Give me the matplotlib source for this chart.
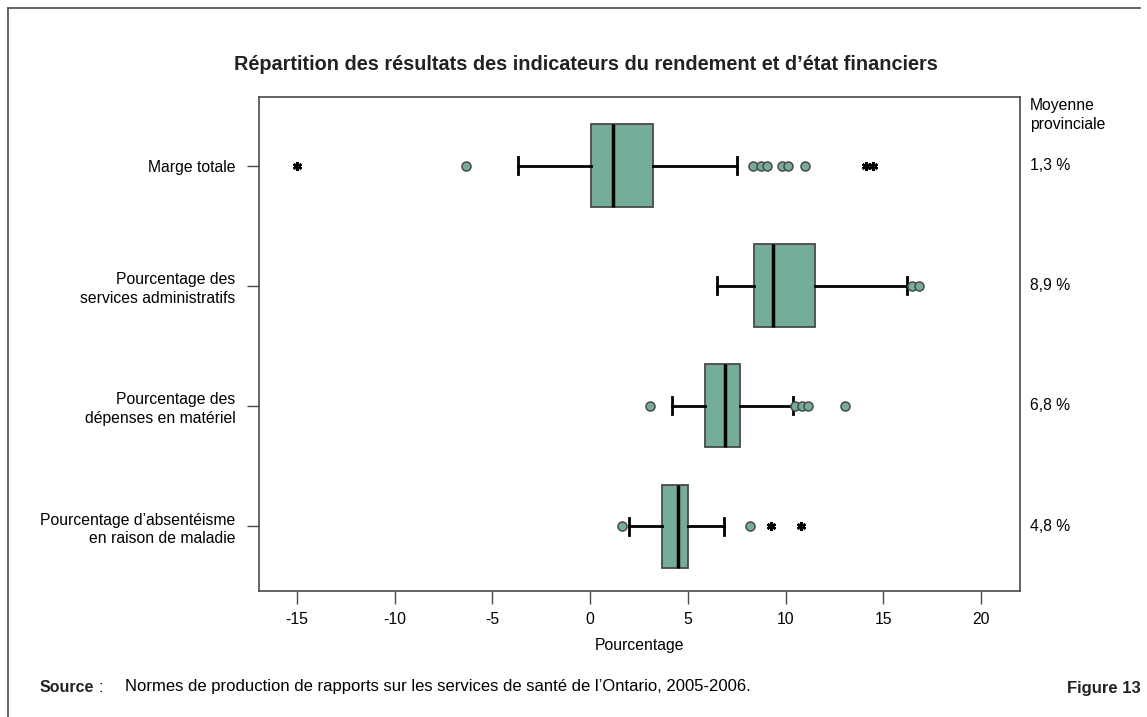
import matplotlib
matplotlib.use('Agg')
import matplotlib.pyplot as plt
from matplotlib.lines import Line2D

plt.rcParams['font.family'] = ['Liberation Sans', 'DejaVu Sans']

categories = [
    'Marge totale',
    'Pourcentage des\nservices administratifs',
    'Pourcentage des\ndépenses en matériel',
    "Pourcentage d\u2019absentéisme\nen raison de maladie",
]
moyennes = ['1,3 %', '8,9 %', '6,8 %', '4,8 %']

whisker_low = [-3.7, 6.5, 4.18, 2.0]
q1 = [0.05, 8.36, 5.89, 3.68]
medians = [1.15, 9.38, 6.91, 4.47]
q3 = [3.21, 11.53, 7.68, 5.02]
whisker_high = [7.5, 16.2, 10.37, 6.86]

outliers = [
    [-6.35, 8.33, 8.75, 9.07, 9.81, 10.15, 11.0],
    [16.46, 16.85],
    [3.07, 10.49, 10.83, 11.17, 13.03],
    [1.62, 8.19],
]
extremes = [
    [-15.0, 14.1, 14.5],
    [],
    [],
    [9.25, 10.8],
]

green = '#74ae9b'
edge = '#4a4a4a'

fig = plt.figure(figsize=(11.47, 7.17), dpi=100)
ax = fig.add_axes([259 / 1147, 1 - 591 / 717, (1020 - 259) / 1147, (591 - 97) / 717])

positions = [4, 3, 2, 1]
stats = []
for i in range(len(categories)):
    stats.append({
        'whislo': whisker_low[i], 'q1': q1[i], 'med': medians[i],
        'q3': q3[i], 'whishi': whisker_high[i], 'fliers': outliers[i],
    })

ax.bxp(stats, positions=positions, vert=False, widths=0.69, patch_artist=True,
       showfliers=True, capwidths=0.14,
       boxprops=dict(facecolor=green, edgecolor=edge, linewidth=1.3),
       medianprops=dict(color='black', linewidth=2.5),
       whiskerprops=dict(color='black', linewidth=2),
       capprops=dict(color='black', linewidth=2),
       flierprops=dict(marker='o', markersize=6.5, markerfacecolor=green,
                       markeredgecolor=edge, markeredgewidth=1.1, linestyle='none'))

# extreme values drawn as asterisks
for pos, ext in zip(positions, extremes):
    if ext:
        ax.plot(ext, [pos] * len(ext), linestyle='none', marker=(6, 2, 0),
                markersize=6.5, markeredgewidth=1.8, color='black')

ax.set_xlim(-16.95, 22.0)
ax.set_ylim(0.46, 4.57)
ax.set_xticks([-15, -10, -5, 0, 5, 10, 15, 20])
ax.set_xticklabels(['-15', '-10', '-5', '0', '5', '10', '15', '20'])
ax.set_yticks(positions)
ax.set_yticklabels(categories, ha='right', linespacing=1.3)
ax.tick_params(axis='both', labelsize=11.3, length=9, width=1, color=edge, pad=6)
ax.tick_params(axis='y', pad=8)
for s in ax.spines.values():
    s.set_color(edge)
    s.set_linewidth(1.2)
ax.set_xlabel('Pourcentage', fontsize=11.3, labelpad=8)

fig.text(586 / 1147, 1 - 65 / 717, 'Répartition des résultats des indicateurs du rendement et d\u2019état financiers',
         ha='center', va='center', fontsize=14.3, fontweight='bold', color='#222222')

fig.text(1030 / 1147, 1 - 115 / 717, 'Moyenne\nprovinciale', ha='left', va='center',
         fontsize=11.3, linespacing=1.3)
for pos, m in zip(positions, moyennes):
    y_disp = ax.transData.transform((0, pos))[1]
    fig.text(1030 / 1147, y_disp / fig.bbox.height, m, ha='left', va='center', fontsize=11.3)

fig.text(40 / 1147, 1 - 687 / 717, 'Source', ha='left', va='center', fontsize=11.5,
         fontweight='bold', color='#222222')
fig.text(99 / 1147, 1 - 687 / 717, ':', ha='left', va='center', fontsize=11.5)
fig.text(125 / 1147, 1 - 687 / 717,
         'Normes de production de rapports sur les services de santé de l\u2019Ontario, 2005-2006.',
         ha='left', va='center', fontsize=12)
fig.text(1141 / 1147, 1 - 688 / 717, 'Figure 13', ha='right', va='center', fontsize=12,
         fontweight='bold', color='#222222')

# outer frame: top and left edges
fig.add_artist(Line2D([8 / 1147, 1140 / 1147], [1 - 8 / 717, 1 - 8 / 717],
                      transform=fig.transFigure, color=edge, linewidth=1.2))
fig.add_artist(Line2D([8 / 1147, 8 / 1147], [1 - 8 / 717, 0],
                      transform=fig.transFigure, color=edge, linewidth=1.2))

fig.savefig('out.png', dpi=100)
